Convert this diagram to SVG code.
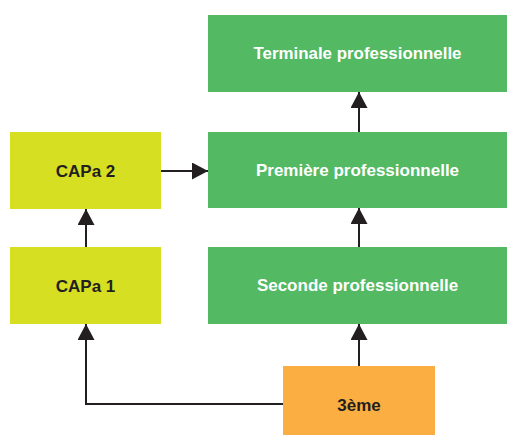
<svg xmlns="http://www.w3.org/2000/svg" width="507" height="435" viewBox="0 0 507 435">
<defs>
<marker id="ah" viewBox="0 0 16 17" refX="16" refY="8.5" markerWidth="16" markerHeight="17" markerUnits="userSpaceOnUse" orient="auto">
<path d="M0,0 L16,8.5 L0,17 Z" fill="#231f20"/>
</marker>
<style>
.lbl{font-family:"Liberation Sans",Arial,sans-serif;font-weight:bold;font-size:17px;text-anchor:middle}
.w{fill:#ffffff}
.d{fill:#231f20}
.g{fill:#53b963}
.y{fill:#d7df23}
.o{fill:#fbae42}
.c{fill:none;stroke:#231f20;stroke-width:2}
</style>
</defs>
<rect width="507" height="435" fill="#ffffff"/>
<g id="connectors">
<path class="c" d="M359,366 V324" marker-end="url(#ah)"/>
<path class="c" d="M359,247 V208" marker-end="url(#ah)"/>
<path class="c" d="M359,132 V92" marker-end="url(#ah)"/>
<path class="c" d="M161,171 H208" marker-end="url(#ah)"/>
<path class="c" d="M86,247 V209" marker-end="url(#ah)"/>
<path class="c" d="M283,404 H86 V324" marker-end="url(#ah)"/>
</g>
<g id="terminale">
<rect class="g" x="208" y="15" width="299" height="77"/>
<text class="lbl w" x="357.5" y="59" textLength="208" lengthAdjust="spacingAndGlyphs">Terminale professionnelle</text>
</g>
<g id="premiere">
<rect class="g" x="208" y="132" width="299" height="76"/>
<text class="lbl w" x="357.5" y="176">Première professionnelle</text>
</g>
<g id="seconde">
<rect class="g" x="208" y="247" width="299" height="77"/>
<text class="lbl w" x="357.5" y="291">Seconde professionnelle</text>
</g>
<g id="capa2">
<rect class="y" x="10" y="132" width="151" height="77"/>
<text class="lbl d" x="85.5" y="177">CAPa 2</text>
</g>
<g id="capa1">
<rect class="y" x="10" y="247" width="151" height="77"/>
<text class="lbl d" x="85.5" y="292">CAPa 1</text>
</g>
<g id="troisieme">
<rect class="o" x="283" y="366" width="152" height="69"/>
<text class="lbl d" x="359" y="411">3ème</text>
</g>
</svg>
